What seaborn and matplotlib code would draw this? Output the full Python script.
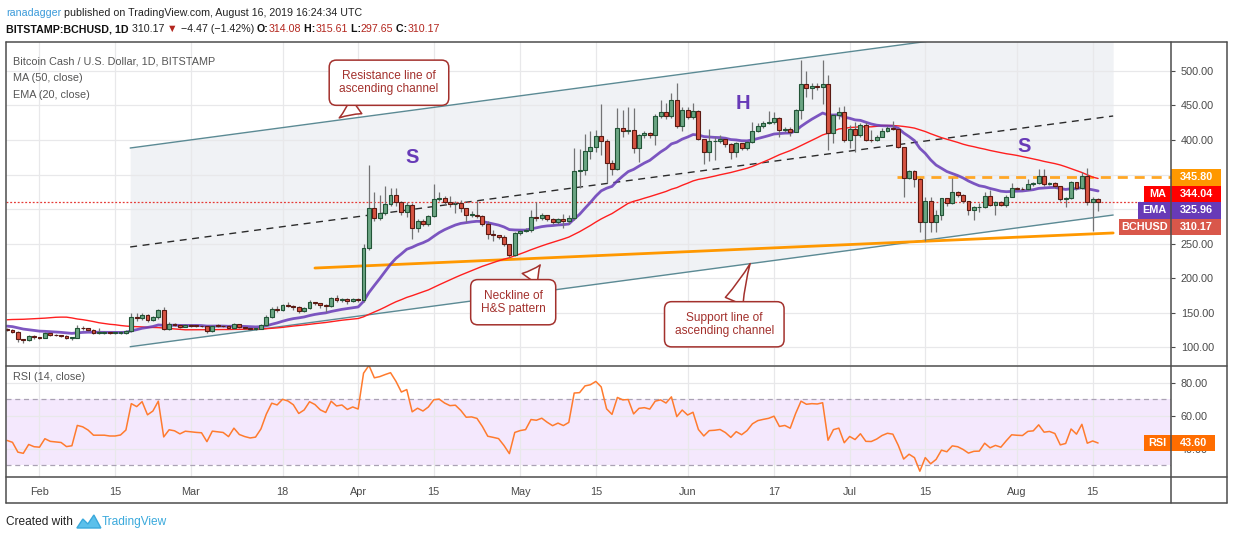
import matplotlib
matplotlib.use("Agg")
import matplotlib.pyplot as plt
import matplotlib.dates as mdates
import matplotlib.transforms as mtransforms
from matplotlib.patches import Rectangle, Polygon
from matplotlib.lines import Line2D
import numpy as np
import pandas as pd
import seaborn as sns

# ---- data ----
# closes before the visible window, only used to warm up MA/EMA/RSI (Dec 7 2018 - Jan 25 2019)
closes_before = [100, 102, 105, 100, 98, 103, 93, 88, 85, 87, 105, 115, 170, 205, 175,
                 190, 195, 205, 175, 177, 155, 175, 165, 172, 155,
                 165, 170, 157, 160, 158, 170, 162, 160, 160, 130, 132, 128, 118, 130, 122,
                 126, 127, 123, 127, 119, 120, 123, 121, 123, 126]

first_day = "2019-01-26"
closes = [
    # Jan 26-31
    124.5, 122.5, 111, 109.5, 116.5, 114,
    # Feb
    113.5, 120, 117.5, 117, 116.5, 113, 113.5, 128, 127, 124.7, 121, 121, 121, 120.5,
    120.5, 121, 123.5, 143, 141.5, 146.5, 139.5, 143, 153.6, 125.6, 133, 132, 129, 131.5,
    # Mar
    131, 130.5, 130.2, 123, 131, 130.5, 130, 127, 133, 128.5, 127, 126, 126.5, 131.5, 143,
    154.6, 153.6, 160.4, 159.5, 157.5, 152.7, 156, 164.8, 163.3, 160.4, 159, 170.6, 168, 169,
    166.7, 169,
    # Apr
    168, 243, 301, 286.5, 293.7, 307, 320, 309.7, 296, 305.8, 272, 283, 278.3, 290, 314,
    316.4, 310.6, 306.8, 308, 301, 291.3, 292, 290, 279, 263.8, 262, 260, 248.8, 233.4, 264.7,
    # May
    268, 269.6, 288, 287, 290.8, 285.5, 281, 285, 282, 286.5, 355, 356.5, 384, 389.4, 405.8,
    399, 367, 357.5, 418, 413.5, 415, 388, 407.2, 409.6, 407, 435, 440, 434.8, 458, 420.8, 443.4,
    # Jun
    432.8, 442, 401.4, 383, 398, 399, 401, 393.7, 382, 395, 388, 397, 413, 421, 424,
    426.5, 431.4, 414.5, 416.5, 412, 443.5, 481, 476, 478, 477.5, 481, 409.6, 436, 440, 400,
    # Jul
    416, 407, 421.7, 400, 399.5, 405, 413, 418, 416, 389.4, 345.4, 355, 343, 281.6, 312,
    281.6, 292, 315.5, 309, 324, 321, 311.6, 298.6, 302.4, 302.8, 318.9, 305.8, 310.6, 305.8,
    318, 330,
    # Aug 1-16
    329, 328.5, 336, 337, 347.8, 335.8, 337, 333.8, 314, 316, 338.7, 330, 347.8, 310.6,
    314.64, 310.17,
]
highs = [
    127, 125.5, 123.5, 112, 118, 117,
    115, 121.5, 121, 118.5, 118, 117, 115, 132, 130, 128, 125.5, 127, 123, 122,
    122, 123, 124.5, 150, 149, 150, 148, 145.5, 155, 158, 136, 134.5, 133, 133,
    133, 132, 132, 131, 132, 133, 132, 131.5, 135, 133.5, 129, 128, 128, 133, 146,
    158, 159, 162, 166, 161, 159, 157.5, 168, 166, 164, 162, 173, 175, 171,
    171, 171,
    171, 249, 364, 324, 320, 333, 331, 330, 312, 310, 308, 286, 285, 292, 336,
    324, 319, 319, 312, 313, 302, 297, 313, 291, 282, 270, 263, 262, 250, 267,
    270, 272, 298, 310, 294, 292, 287, 287, 293, 292, 388, 386.5, 408.7, 413.5, 414.5,
    452, 402, 371, 446, 443.5, 448, 447, 409, 413, 412, 437, 458, 453, 467.6, 483, 448,
    448, 453, 443, 402, 415.5, 405, 407, 402, 395, 397, 396, 399, 426.5, 424, 428,
    442, 441, 434, 418.5, 419, 445, 516, 500, 482, 482, 516, 494, 438, 448, 449,
    422, 426, 424, 426.6, 414.5, 407, 418, 420, 428, 418, 390, 357, 356, 345, 318,
    318, 298, 316, 316, 345, 326, 322, 312, 304, 308, 325, 327.6, 312, 312,
    320, 338,
    332, 332, 343, 339, 357.5, 357.5, 339.5, 339, 334, 318, 340, 339, 354, 359,
    317, 315.61,
]
lows = [
    123, 121, 107, 106, 108.5, 112,
    111, 113, 116, 115.5, 115, 111, 110, 112.5, 125, 123, 119, 119.5, 119, 119,
    119, 119.5, 119, 122, 138, 139, 137, 138, 141, 124, 125, 130, 128, 128.5,
    129.5, 129, 129, 121, 122, 129.5, 128.5, 125.5, 126.5, 127.5, 125.5, 124.5, 125, 126, 131,
    142, 151, 152.5, 157.5, 154, 150, 150.5, 155, 161, 157, 151, 158, 166, 165.5,
    163, 165,
    165, 166, 240, 283, 284, 292, 304, 305, 292, 288, 256, 267, 275, 275, 288,
    311, 306, 303, 294, 295, 281.6, 288, 287, 276, 256, 253, 257, 247, 231, 232,
    263, 266, 266, 283, 284, 282, 278, 279, 272, 278, 284, 331, 349, 372, 383,
    378, 337, 350, 356, 405, 408, 381, 368.6, 403, 403, 392.7, 432, 430, 432, 418, 413.5,
    430, 430, 400, 365, 370, 371, 396, 390, 372, 376, 385, 386, 395, 411, 418,
    423, 423, 404, 412, 406, 412, 431, 463, 460, 472, 452, 385.5, 395, 431, 397,
    388, 383, 405, 398, 397, 399, 404, 411, 414, 388, 318, 344, 332, 267, 253.6,
    267, 267, 284, 305, 307, 318, 309, 291, 284, 296, 301, 304, 291, 304,
    303, 317,
    327, 327, 327, 333, 336, 334, 334.5, 331, 312, 303, 314, 328, 329, 305.8,
    268.6, 297.65,
]
opens = closes_before[-1:] + closes[:-1]

# hand-drawn lines on the chart: (time, price) end points
resistance_line = [("2019-02-17 19:00", 388.4), ("2019-08-18 19:00", 579.0)]
support_line = [("2019-02-17 19:00", 100.5), ("2019-08-18 19:00", 291.3)]
mid_dashed_line = [("2019-02-17 19:00", 245.0), ("2019-08-18 19:00", 434.8)]
neckline = [("2019-03-24 00:00", 214.5), ("2019-08-18 19:00", 265.3)]
resistance_level = 345.80
resistance_level_start = "2019-07-09 17:00"
last_price = 310.17

pattern_labels = [("S", "2019-04-11", 375), ("H", "2019-06-11 07:00", 453), ("S", "2019-08-02 07:00", 390)]
callouts = [
    ("Resistance line of\nascending channel", "2019-04-06 17:00", 483, "2019-03-28 12:00", 432),
    ("Neckline of\nH&S pattern", "2019-04-29 17:00", 165, "2019-05-04 17:00", 219),
    ("Support line of\nascending channel", "2019-06-07 19:00", 133, "2019-06-12 14:00", 221),
]

price_ticks = [100, 150, 200, 250, 300, 350, 400, 450, 500]
rsi_ticks = [40, 60, 80]
x_tick_dates = ["2019-02-01", "2019-02-15", "2019-03-01", "2019-03-18", "2019-04-01", "2019-04-15",
                "2019-05-01", "2019-05-15", "2019-06-01", "2019-06-17", "2019-07-01", "2019-07-15",
                "2019-08-01", "2019-08-15"]
x_tick_labels = ["Feb", "15", "Mar", "18", "Apr", "15", "May", "15", "Jun", "17", "Jul", "15", "Aug", "15"]

# right-axis tags: name, value, colour, name box width (px)
price_tags = [("", 345.80, "#ff9800", 0), ("MA", 344.04, "#ff0000", 27),
              ("EMA", 325.96, "#673ab7", 33), ("BCHUSD", 310.17, "#d9574a", 52)]
rsi_tag = ("RSI", 43.60, "#ff6d00", 27)

UP, UP_EDGE = "#6ba583", "#225437"
DOWN, DOWN_EDGE = "#d75442", "#5b1a13"
WICK = "#737375"
GRID = "#e8e8ea"
FRAME = "#4d4d4d"
CALLOUT = "#a3312d"

# ---- indicators ----
all_close = pd.Series(closes_before + closes, dtype=float)
n0 = len(closes_before)
ma50 = all_close.rolling(50).mean().iloc[n0:].to_numpy()
ema20 = all_close.ewm(span=20, adjust=False).mean().iloc[n0:].to_numpy()
delta = all_close.diff()
avg_gain = delta.clip(lower=0).ewm(alpha=1 / 14, adjust=False).mean()
avg_loss = (-delta.clip(upper=0)).ewm(alpha=1 / 14, adjust=False).mean()
rsi = (100 - 100 / (1 + avg_gain / avg_loss)).iloc[n0:].to_numpy()

dates = pd.date_range(first_day, periods=len(closes), freq="D")
df = pd.DataFrame({"date": dates, "open": opens, "close": closes, "high": highs, "low": lows,
                   "ma50": ma50, "ema20": ema20, "rsi": rsi})


def tnum(s):
    return mdates.date2num(pd.Timestamp(s))


# ---- figure ----
sns.set_theme(style="white")
plt.rcParams["font.family"] = ["Liberation Sans", "DejaVu Sans"]

W, H = 1234, 540
fig = plt.figure(figsize=(W / 100, H / 100), dpi=100)


def fx(px):
    return px / W


def fy(py):
    return 1 - py / H


ax = fig.add_axes([fx(6), fy(365), (1171 - 6) / W, (365 - 42) / H])
ax_rsi = fig.add_axes([fx(6), fy(477), (1171 - 6) / W, (477 - 366) / H], sharex=ax)

x0 = mdates.date2num(pd.Timestamp(first_day)) - 0.2
x1 = mdates.date2num(pd.Timestamp(first_day)) + 215.5
ax.set_xlim(x0, x1)
ax.set_ylim(74.0, 542.0)
ax_rsi.set_ylim(23.0, 90.3)

for a in (ax, ax_rsi):
    for sp in a.spines.values():
        sp.set_visible(False)
    a.set_axisbelow(True)
    a.grid(True, color=GRID, linewidth=0.9)
    a.set_xticks([tnum(d) for d in x_tick_dates])
    a.yaxis.tick_right()
    a.tick_params(axis="y", direction="out", length=3, pad=4, labelsize=7.8,
                  colors="#4a4a4a", width=0.8)

ax.set_yticks(price_ticks)
ax.set_yticklabels([f"{v:.2f}" for v in price_ticks])
ax.tick_params(axis="x", length=0, labelbottom=False)
ax_rsi.set_yticks(rsi_ticks)
ax_rsi.set_yticklabels([f"{v:.2f}" for v in rsi_ticks])
ax_rsi.set_xticklabels(x_tick_labels)
ax_rsi.tick_params(axis="x", direction="out", length=2.5, pad=5, labelsize=7.8,
                   colors="#4a4a4a", width=0.8)

# channel shading and drawn lines
cx = [tnum(resistance_line[0][0]), tnum(resistance_line[1][0])]
ax.fill_between(cx, [support_line[0][1], support_line[1][1]],
                [resistance_line[0][1], resistance_line[1][1]], color="#f0f2f5", zorder=0.2, lw=0)
for line, col, ls, lw in [(resistance_line, "#5b8a94", "-", 1.0), (support_line, "#5b8a94", "-", 1.0),
                          (mid_dashed_line, "#2b2b2b", (0, (5, 4)), 1.0), (neckline, "#ff9800", "-", 2.0)]:
    ax.plot([tnum(p[0]) for p in line], [p[1] for p in line], color=col, ls=ls, lw=lw, zorder=2)

ax.plot([tnum(resistance_level_start), x1], [resistance_level, resistance_level], color="#ffa726",
        lw=2, ls=(0, (3.6, 2.5)), zorder=2, clip_on=False)
ax.axhline(last_price, color="#e53935", lw=0.9, ls=(0, (1.5, 1.5)), zorder=2)

# moving averages
sns.lineplot(data=df, x="date", y="ma50", ax=ax, color="#ff1f1f", lw=1.0, zorder=3)
sns.lineplot(data=df, x="date", y="ema20", ax=ax, color="#673ab7", lw=2.0, alpha=0.85, zorder=3)

# candles
xs = mdates.date2num(df["date"])
o = df["open"].to_numpy()
c = df["close"].to_numpy()
up = c >= o
ax.vlines(xs, df["low"], df["high"], color=WICK, lw=0.9, zorder=4)
body = np.maximum(np.abs(c - o), 0.9)
bottom = np.minimum(o, c)
ax.bar(xs[up], body[up], bottom=bottom[up], width=0.72, color=UP, edgecolor=UP_EDGE, linewidth=0.8, zorder=5)
ax.bar(xs[~up], body[~up], bottom=bottom[~up], width=0.72, color=DOWN, edgecolor=DOWN_EDGE, linewidth=0.8, zorder=5)
ax.set_xlabel("")
ax.set_ylabel("")

for s, d, p in pattern_labels:
    ax.text(tnum(d), p, s, color="#673ab7", fontsize=14.5, fontweight="bold", ha="center", va="center", zorder=6)

for text, bd, bp, td, tp in callouts:
    ax.annotate(text, xy=(tnum(td), tp), xytext=(tnum(bd), bp), ha="center", va="center",
                fontsize=8.6, color=CALLOUT, linespacing=1.1, zorder=8,
                bbox=dict(boxstyle="round,pad=0.85,rounding_size=0.6", fc="white", ec=CALLOUT, lw=1.1),
                arrowprops=dict(arrowstyle="wedge,tail_width=1.6,shrink_factor=0.4", fc="white",
                                ec=CALLOUT, lw=1.1, shrinkA=0, shrinkB=0))

# RSI panel
ax_rsi.axhspan(30, 70, color="#f4e8fd", zorder=0.2, lw=0)
for lvl in (30, 70):
    ax_rsi.axhline(lvl, color="#aaa2b4", lw=0.9, ls=(0, (4, 3)), zorder=1)
sns.lineplot(data=df, x="date", y="rsi", ax=ax_rsi, color="#ff7b2e", lw=1.1, zorder=3)
ax_rsi.set_xlabel("")
ax_rsi.set_ylabel("")


# tags on the right axis
def tag(axis, value, text, color, name, name_px, box_px=50, h_px=16.5, center=None):
    trans = mtransforms.blended_transform_factory(axis.transAxes, axis.transData)
    lo, hi = axis.get_ylim()
    per_px = (hi - lo) / axis.get_window_extent().height
    h = h_px * per_px
    yc = value if center is None else center
    axw = axis.get_window_extent().width
    axis.add_patch(Rectangle((1.0, yc - h / 2), box_px / axw, h, transform=trans, fc=color,
                             ec="none", clip_on=False, zorder=20))
    axis.text(1.0 + box_px / axw / 2, yc, text, transform=trans, color="white", fontsize=7.8,
              fontweight="bold", ha="center", va="center", zorder=21, clip_on=False)
    if name:
        axis.add_patch(Rectangle((1.0 - name_px / axw, yc - h / 2), name_px / axw, h, transform=trans,
                                 fc=color, ec="none", clip_on=False, zorder=20))
        axis.text(1.0 - name_px / axw / 2, yc, name, transform=trans, color="white", fontsize=7.8,
                  fontweight="bold", ha="center", va="center", zorder=21, clip_on=False)
    return h


yc = price_tags[0][1]
for name, val, col, npx in price_tags:
    h = tag(ax, val, f"{val:.2f}", col, name, npx, center=yc)
    yc -= h
tag(ax_rsi, rsi_tag[1], f"{rsi_tag[1]:.2f}", rsi_tag[2], rsi_tag[0], rsi_tag[3], box_px=44)

# legend-like texts inside the panels
fig.text(fx(13), fy(61), "Bitcoin Cash / U.S. Dollar, 1D, BITSTAMP", fontsize=7.8, color="#555555", va="center")
fig.text(fx(13), fy(78), "MA (50, close)", fontsize=7.8, color="#555555", va="center")
fig.text(fx(13), fy(95), "EMA (20, close)", fontsize=7.8, color="#555555", va="center")
fig.text(fx(13), fy(377), "RSI (14, close)", fontsize=7.8, color="#555555", va="center")

# frame
for (xa, ya, xb, yb) in [(6, 42, 1227, 42), (6, 503, 1227, 503), (6, 42, 6, 503), (1227, 42, 1227, 503),
                         (1171, 42, 1171, 503), (6, 365.5, 1227, 365.5), (6, 477, 1227, 477)]:
    fig.add_artist(Line2D([fx(xa), fx(xb)], [fy(ya), fy(yb)], color=FRAME, lw=1.1,
                          transform=fig.transFigure))

# header
renderer = fig.canvas.get_renderer()


def text_run(x_px, y_px, pieces, size):
    x = x_px
    for s, color, weight in pieces:
        t = fig.text(fx(x), fy(y_px), s, color=color, fontsize=size, fontweight=weight,
                     va="center", ha="left")
        x += t.get_window_extent(renderer).width
    return x


text_run(6, 13, [("ranadagger", "#3a9ad9", "normal"),
                 (" published on TradingView.com, August 16, 2019 16:24:34 UTC", "#222222", "normal")], 7.7)
red = "#b3261e"
text_run(6, 29, [("BITSTAMP:BCHUSD, 1D", "#111111", "bold"), (" 310.17 ", "#222222", "normal"),
                 ("▼", red, "normal"), (" −4.47 (−1.42%) ", "#222222", "normal"),
                 ("O:", "#111111", "bold"), ("314.08", red, "normal"),
                 (" H:", "#111111", "bold"), ("315.61", red, "normal"),
                 (" L:", "#111111", "bold"), ("297.65", red, "normal"),
                 (" C:", "#111111", "bold"), ("310.17", red, "normal")], 7.7)

# footer
xe = text_run(6, 522, [("Created with", "#222222", "normal")], 8.6)
logo = Polygon([(fx(xe + 4), fy(528)), (fx(xe + 10), fy(519)), (fx(xe + 15), fy(524)),
                (fx(xe + 21), fy(515)), (fx(xe + 28), fy(528))], closed=True,
               fc="#5bc0eb", ec="#3aa9dc", lw=1, transform=fig.transFigure)
fig.add_artist(logo)
text_run(xe + 29, 522, [("TradingView", "#3aa9dc", "normal")], 8.6)

fig.savefig("out.png", dpi=100, facecolor="white")
